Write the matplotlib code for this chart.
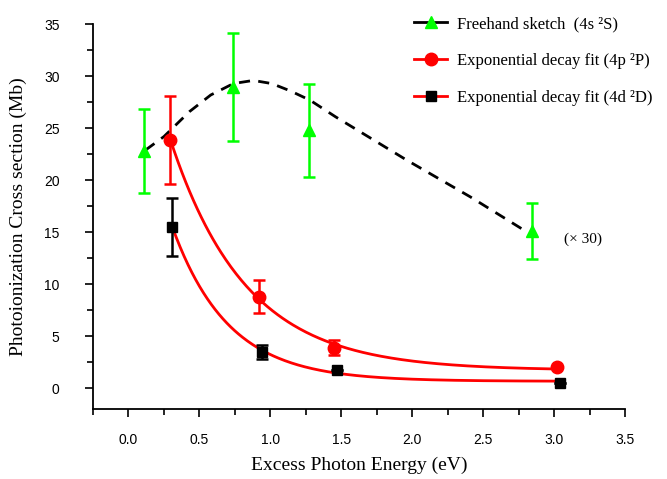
import numpy as np
import matplotlib
matplotlib.use("Agg")
import matplotlib.pyplot as plt
from matplotlib.lines import Line2D
from matplotlib.ticker import MultipleLocator

#########################################
#DATA
#########################################
#4s 2S (freehand sketch, x30)
x_s=[0.113,0.74,1.27,2.845]
y_s=[22.8,29.0,24.8,15.1]
e_s=[4.05,5.2,4.45,2.7]

#freehand sketch line
x_sk=[0.12,0.25,0.43,0.58,0.74,0.88,1.01,1.14,1.28,1.46,1.96,2.41,2.80]
y_sk=[22.9,24.2,26.6,28.2,29.3,29.6,29.3,28.6,27.7,26.1,21.95,18.4,15.1]

#4p 2P
x_p=[0.295,0.92,1.45,3.02]
y_p=[23.9,8.8,3.9,2.0]
e_p=[4.25,1.6,0.75,0.0]

#4d 2D
x_d=[0.31,0.94,1.47,3.04]
y_d=[15.5,3.5,1.8,0.48]
e_d=[2.8,0.7,0.0,0.0]

labels=["Freehand sketch  (4s \u00b2S)",
        "Exponential decay fit (4p \u00b2P)",
        "Exponential decay fit (4d \u00b2D)"]

#########################################
#ROUTINES
#########################################
def expfit(x,y):
    #y = y0 + A*exp(-x/t), grid over t, linear least squares for y0, A
    x=np.array(x); y=np.array(y)
    best=None
    for t in np.linspace(0.05,3.0,3000):
        M=np.vstack([np.ones_like(x),np.exp(-x/t)]).T
        c,res,_,_=np.linalg.lstsq(M,y,rcond=None)
        r=np.sum((M@c-y)**2)
        if best is None or r<best[0]:
            best=(r,c[0],c[1],t)
    return best[1:]

#########################################
#FIGURE
#########################################
serif=["Liberation Serif","DejaVu Serif"]
plt.rcParams['font.family']=["Liberation Sans","DejaVu Sans"]

fig=plt.figure(figsize=(6.67,4.79),dpi=100)
ax=fig.add_axes([0.1394,0.1461,0.7976,0.8032])
ax.set_xlim(-0.25,3.5)
ax.set_ylim(-2,35)

red='#ff0000'
green='#00ff00'

#freehand sketch
ax.plot(x_sk,y_sk,color='k',lw=2.0,linestyle=(0,(4,3)),zorder=2)
ax.errorbar(x_s,y_s,yerr=e_s,fmt='^',color=green,ms=9,elinewidth=1.8,
            capsize=4,capthick=1.8,zorder=3)

#fits
for xx,yy,ee,mk,ms,mc in [(x_p,y_p,e_p,'o',9,red),(x_d,y_d,e_d,'s',7.5,'k')]:
    y0,A,t=expfit(xx,yy)
    xf=np.linspace(xx[0],xx[-1],300)
    ax.plot(xf,y0+A*np.exp(-xf/t),color=red,lw=2.0,zorder=2)
    ax.errorbar(xx,yy,yerr=ee,fmt=mk,color=mc,ms=ms,elinewidth=1.8,
                capsize=4,capthick=1.8,zorder=3)

ax.text(3.07,14.3,"(\u00d7 30)",family=serif,fontsize=11,va='center',ha='left')

#axes style
for s in ['top','right']:
    ax.spines[s].set_visible(False)
for s in ['left','bottom']:
    ax.spines[s].set_linewidth(1.3)
ax.xaxis.set_major_locator(MultipleLocator(0.5))
ax.xaxis.set_minor_locator(MultipleLocator(0.25))
ax.yaxis.set_major_locator(MultipleLocator(5))
ax.yaxis.set_minor_locator(MultipleLocator(2.5))
ax.tick_params(which='major',direction='out',length=6,width=1.2,labelsize=10)
ax.tick_params(which='minor',direction='out',length=4,width=1.2)
ax.tick_params(axis='x',which='major',pad=11)
ax.tick_params(axis='y',which='major',pad=18)

ax.set_xlabel("Excess Photon Energy (eV)",family=serif,fontsize=14,labelpad=7)
ax.set_ylabel("Photoionization Cross section (Mb)",family=serif,fontsize=14,labelpad=12)

#legend
handles=[Line2D([],[],color='k',lw=2,marker='^',mfc=green,mec=green,ms=9),
         Line2D([],[],color=red,lw=2,marker='o',mfc=red,mec=red,ms=9),
         Line2D([],[],color=red,lw=2,marker='s',mfc='k',mec='k',ms=7.5)]
ax.legend(handles,labels,loc='upper left',bbox_to_anchor=(0.575,1.06),frameon=False,
          prop={'family':serif,'size':12},handlelength=2.0,handletextpad=0.6,labelspacing=1.25)

fig.savefig("out.png",dpi=100)
